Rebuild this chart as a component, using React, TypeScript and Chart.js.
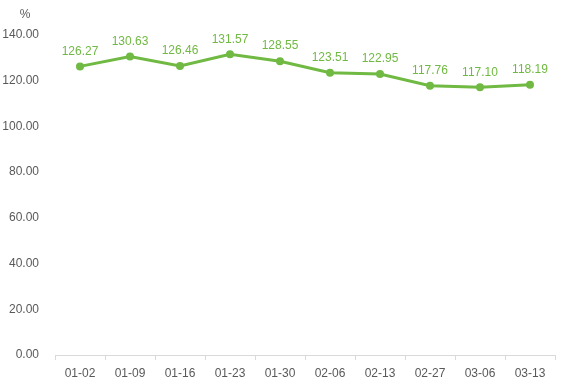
import React, { useEffect, useRef } from "react";
import { Chart, registerables } from "chart.js";

Chart.register(...registerables);

const categories = ["01-02", "01-09", "01-16", "01-23", "01-30", "02-06", "02-13", "02-27", "03-06", "03-13"];
const values = [126.27, 130.63, 126.46, 131.57, 128.55, 123.51, 122.95, 117.76, 117.1, 118.19];
const yUnit = "%";

const GREEN = "#70b942";
const FONT = "'Liberation Sans', Arial, sans-serif";

const labelPlugin = {
  id: "labels",
  afterDatasetsDraw(chart: any) {
    const ctx = chart.ctx;
    const meta = chart.getDatasetMeta(0);
    ctx.save();
    ctx.font = `12px ${FONT}`;
    ctx.fillStyle = GREEN;
    ctx.textAlign = "center";
    ctx.textBaseline = "bottom";
    meta.data.forEach((pt: any, i: number) => {
      ctx.fillText(values[i].toFixed(2), pt.x, pt.y - 9);
    });
    ctx.fillStyle = "#595959";
    ctx.font = `12px ${FONT}`;
    ctx.textAlign = "center";
    ctx.textBaseline = "middle";
    ctx.fillText(yUnit, 25, 15);
    ctx.restore();
  },
};

export default function App() {
  const ref = useRef<HTMLCanvasElement>(null);
  useEffect(() => {
    if (!ref.current) return;
    const chart = new Chart(ref.current, {
      type: "line",
      data: {
        labels: categories,
        datasets: [
          {
            data: values,
            borderColor: GREEN,
            backgroundColor: GREEN,
            borderWidth: 3,
            pointRadius: 4,
            pointBackgroundColor: GREEN,
            pointBorderWidth: 0,
            tension: 0,
          },
        ],
      },
      options: {
        responsive: false,
        animation: false,
        layout: { padding: { top: 35, right: 7, left: 0, bottom: 0 } },
        plugins: { legend: { display: false }, tooltip: { enabled: false } },
        scales: {
          x: {
            offset: true,
            grid: { display: true, drawOnChartArea: false, drawTicks: true, tickLength: 5, color: "#d9d9d9", offset: true },
            border: { display: true, color: "#d9d9d9", width: 1 },
            ticks: { color: "#595959", font: { family: FONT, size: 12 }, padding: 6, maxRotation: 0 },
            afterFit(scale: any) { scale.height = 35; },
          },
          y: {
            min: 0,
            max: 140,
            grid: { display: false },
            border: { display: false },
            ticks: {
              stepSize: 20,
              color: "#595959",
              font: { family: FONT, size: 12 },
              padding: 8,
              callback: (v: any) => Number(v).toFixed(2),
            },
            afterFit(scale: any) { scale.width = 55; },
          },
        },
      },
      plugins: [labelPlugin],
    });
    return () => chart.destroy();
  }, []);
  return (
    <div style={{ position: "fixed", left: 0, top: 0, width: 562, height: 390, background: "#fff" }}>
      <canvas ref={ref} width={562} height={390} />
    </div>
  );
}
